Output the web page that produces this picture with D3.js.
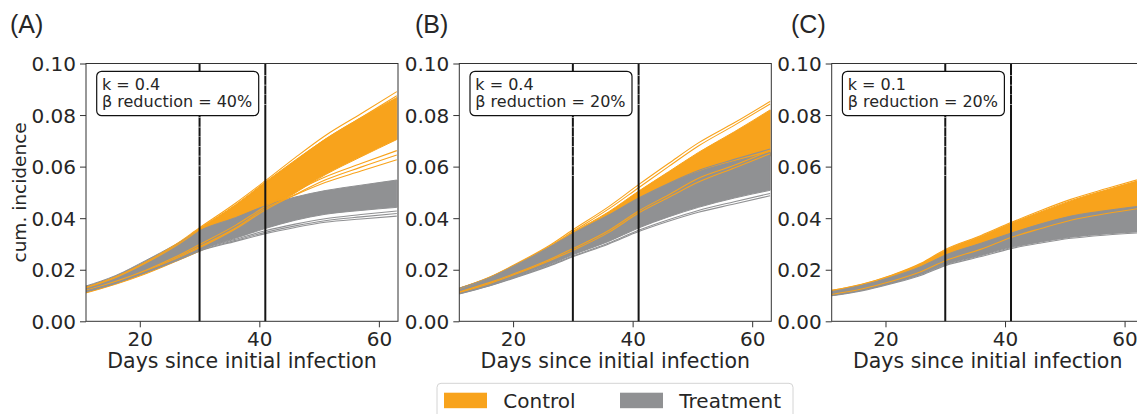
<!DOCTYPE html>
<html>
<head>
<meta charset="utf-8">
<script src="https://cdn.jsdelivr.net/npm/d3@7"></script>
<style>
  html, body { margin: 0; padding: 0; background: #ffffff; }
  svg { display: block; }
  text { font-family: "DejaVu Sans", sans-serif; fill: #262626; }
</style>
</head>
<body>
<svg id="chart" width="1137" height="414"></svg>
<script>
// Simulation days at which each trajectory is sampled
const days = [11, 16, 21, 26, 30, 36, 41, 46, 51, 57, 63];
const yTicks = [0.00, 0.02, 0.04, 0.06, 0.08, 0.10];
const xTicks = [20, 40, 60];
const markerDays = [30, 41];
const panelLabels = ["(A)", "(B)", "(C)"];
const panelNotes = [
  ["k = 0.4", "β reduction = 40%"],
  ["k = 0.4", "β reduction = 20%"],
  ["k = 0.1", "β reduction = 20%"]
];
const seriesNames = ["Control", "Treatment"];

// Panel A: envelope of the dense ensemble plus individual runs
const aControlHi = [0.0133, 0.0174, 0.0230, 0.0296, 0.0360, 0.0452, 0.0540, 0.0625, 0.0706, 0.0790, 0.0868];
const aControlLo = [0.0110, 0.0144, 0.0184, 0.0232, 0.0272, 0.0345, 0.0428, 0.0498, 0.0568, 0.0638, 0.0705];
const aControlRuns = [
  [0.0132, 0.0173, 0.0230, 0.0298, 0.0363, 0.0458, 0.0545, 0.0635, 0.0720, 0.0805, 0.0891],
  [0.0130, 0.0170, 0.0226, 0.0292, 0.0355, 0.0448, 0.0535, 0.0620, 0.0705, 0.0790, 0.0875],
  [0.0118, 0.0152, 0.0195, 0.0245, 0.0290, 0.0362, 0.0438, 0.0490, 0.0538, 0.0583, 0.0627],
  [0.0116, 0.0150, 0.0192, 0.0240, 0.0285, 0.0358, 0.0432, 0.0492, 0.0548, 0.0598, 0.0645],
  [0.0120, 0.0155, 0.0198, 0.0250, 0.0298, 0.0372, 0.0445, 0.0505, 0.0560, 0.0612, 0.0662]
];
const aTreatHi = [0.0137, 0.0178, 0.0236, 0.0298, 0.0352, 0.0402, 0.0448, 0.0482, 0.0507, 0.0528, 0.0548];
const aTreatLo = [0.0117, 0.0150, 0.0192, 0.0238, 0.0278, 0.0322, 0.0360, 0.0392, 0.0415, 0.0430, 0.0442];
const aTreatRuns = [
  [0.0115, 0.0148, 0.0189, 0.0234, 0.0272, 0.0310, 0.0340, 0.0364, 0.0384, 0.0397, 0.0408],
  [0.0116, 0.0149, 0.0191, 0.0236, 0.0275, 0.0314, 0.0345, 0.0370, 0.0390, 0.0405, 0.0418],
  [0.0117, 0.0150, 0.0192, 0.0238, 0.0278, 0.0318, 0.0351, 0.0377, 0.0398, 0.0414, 0.0428]
];

// Panel B
const bControlHi = [0.0129, 0.0170, 0.0226, 0.0288, 0.0345, 0.0425, 0.0505, 0.0580, 0.0655, 0.0735, 0.0820];
const bControlLo = [0.0110, 0.0143, 0.0184, 0.0228, 0.0268, 0.0340, 0.0410, 0.0470, 0.0530, 0.0585, 0.0640];
const bControlRuns = [
  [0.0128, 0.0171, 0.0229, 0.0293, 0.0355, 0.0445, 0.0530, 0.0612, 0.0692, 0.0770, 0.0853],
  [0.0127, 0.0169, 0.0226, 0.0289, 0.0348, 0.0436, 0.0518, 0.0600, 0.0680, 0.0760, 0.0843],
  [0.0112, 0.0146, 0.0188, 0.0234, 0.0275, 0.0345, 0.0420, 0.0480, 0.0540, 0.0595, 0.0650],
  [0.0114, 0.0150, 0.0192, 0.0239, 0.0282, 0.0352, 0.0428, 0.0490, 0.0555, 0.0605, 0.0662]
];
const bTreatHi = [0.0128, 0.0168, 0.0224, 0.0284, 0.0338, 0.0410, 0.0475, 0.0532, 0.0580, 0.0620, 0.0655];
const bTreatLo = [0.0108, 0.0140, 0.0178, 0.0220, 0.0258, 0.0310, 0.0362, 0.0405, 0.0442, 0.0478, 0.0508];
const bTreatRuns = [
  [0.0106, 0.0137, 0.0174, 0.0214, 0.0250, 0.0300, 0.0348, 0.0388, 0.0423, 0.0455, 0.0487],
  [0.0107, 0.0138, 0.0176, 0.0217, 0.0253, 0.0304, 0.0353, 0.0394, 0.0430, 0.0464, 0.0496],
  [0.0128, 0.0168, 0.0224, 0.0286, 0.0340, 0.0412, 0.0478, 0.0535, 0.0585, 0.0628, 0.0668]
];

// Panel C
const cControlHi = [0.0120, 0.0143, 0.0178, 0.0224, 0.0276, 0.0330, 0.0380, 0.0425, 0.0468, 0.0510, 0.0550];
const cControlLo = [0.0100, 0.0120, 0.0149, 0.0185, 0.0223, 0.0266, 0.0312, 0.0350, 0.0386, 0.0418, 0.0445];
const cControlRuns = [
  [0.0120, 0.0144, 0.0179, 0.0226, 0.0279, 0.0333, 0.0383, 0.0430, 0.0473, 0.0515, 0.0555],
  [0.0104, 0.0125, 0.0155, 0.0193, 0.0235, 0.0280, 0.0325, 0.0360, 0.0392, 0.0418, 0.0440]
];
const cTreatHi = [0.0118, 0.0140, 0.0172, 0.0213, 0.0257, 0.0303, 0.0342, 0.0378, 0.0408, 0.0430, 0.0448];
const cTreatLo = [0.0100, 0.0120, 0.0148, 0.0182, 0.0219, 0.0255, 0.0286, 0.0308, 0.0326, 0.0339, 0.0348];
const cTreatRuns = [
  [0.0099, 0.0118, 0.0146, 0.0179, 0.0216, 0.0251, 0.0282, 0.0304, 0.0322, 0.0335, 0.0344]
];

const colors = { control: "#f8a31c", treat: "#909193" };

const panels = [
  { left: 86,    label: panelLabels[0], labelX: 10,  note: panelNotes[0],
    cHi: aControlHi, cLo: aControlLo, cRuns: aControlRuns, tHi: aTreatHi, tLo: aTreatLo, tRuns: aTreatRuns, ylabel: true },
  { left: 459.3, label: panelLabels[1], labelX: 415, note: panelNotes[1],
    cHi: bControlHi, cLo: bControlLo, cRuns: bControlRuns, tHi: bTreatHi, tLo: bTreatLo, tRuns: bTreatRuns, ylabel: false },
  { left: 831.7, label: panelLabels[2], labelX: 791, note: panelNotes[2],
    cHi: cControlHi, cLo: cControlLo, cRuns: cControlRuns, tHi: cTreatHi, tLo: cTreatLo, tRuns: cTreatRuns, ylabel: false }
];

const svg = d3.select("#chart");
const plotW = 312, plotTop = 63.5, plotBottom = 321.3;
// short broken stretches on the marker lines (below the note box / beside it)
const markerBreaks = [[117, 177], [75, 112]];

panels.forEach((p, i) => {
  const x = d3.scaleLinear().domain([11, 63.2]).range([p.left, p.left + plotW]);
  const y = d3.scaleLinear().domain([0, 0.10]).range([plotBottom, plotTop]);

  const clipId = "clip" + i;
  svg.append("clipPath").attr("id", clipId)
    .append("rect").attr("x", p.left).attr("y", plotTop).attr("width", plotW).attr("height", plotBottom - plotTop);

  const g = svg.append("g");
  const data = g.append("g").attr("clip-path", `url(#${clipId})`);

  const band = (hi, lo) => d3.area()
    .curve(d3.curveMonotoneX)
    .x((d, k) => x(days[k]))
    .y0((d, k) => y(lo[k]))
    .y1((d, k) => y(hi[k]))(hi);
  const line = d3.line().curve(d3.curveMonotoneX).x((d, k) => x(days[k])).y(d => y(d));

  data.append("path").attr("d", band(p.cHi, p.cLo)).attr("fill", colors.control)
    .attr("stroke", colors.control).attr("stroke-width", 1);
  data.append("path").attr("d", band(p.tHi, p.tLo)).attr("fill", colors.treat)
    .attr("stroke", colors.treat).attr("stroke-width", 1);
  p.cRuns.forEach(r => data.append("path").attr("d", line(r)).attr("fill", "none")
    .attr("stroke", colors.control).attr("stroke-width", 1.1));
  p.tRuns.forEach(r => data.append("path").attr("d", line(r)).attr("fill", "none")
    .attr("stroke", colors.treat).attr("stroke-width", 1.1));

  // intervention markers
  markerDays.forEach((d, k) => {
    g.append("line").attr("x1", x(d)).attr("x2", x(d)).attr("y1", plotTop).attr("y2", plotBottom)
      .attr("stroke", "#151515").attr("stroke-width", 2);
    const br = markerBreaks[k];
    g.append("line").attr("x1", x(d)).attr("x2", x(d)).attr("y1", br[0]).attr("y2", br[1])
      .attr("stroke", "#ffffff").attr("stroke-width", 2.4).attr("stroke-opacity", 0.75)
      .attr("stroke-dasharray", "0.7 9");
  });

  // axes
  const yAxis = d3.axisLeft(y).tickValues(yTicks).tickFormat(d3.format(".2f")).tickSize(6).tickPadding(4);
  const xAxis = d3.axisBottom(x).tickValues(xTicks).tickFormat(d3.format("d")).tickSize(6).tickPadding(4);
  const ya = g.append("g").attr("transform", `translate(${p.left},0)`).call(yAxis);
  const xa = g.append("g").attr("transform", `translate(0,${plotBottom})`).call(xAxis);
  [ya, xa].forEach(a => {
    a.select(".domain").remove();
    a.selectAll(".tick line").attr("stroke", "#333").attr("stroke-width", 1);
    a.selectAll(".tick text").attr("font-size", 20).attr("fill", "#262626")
      .style("font-family", "'DejaVu Sans', sans-serif");
  });
  ya.selectAll(".tick text").attr("dy", "0.36em");
  xa.selectAll(".tick text").attr("dy", "0.74em");

  // frame
  g.append("rect").attr("x", p.left).attr("y", plotTop).attr("width", plotW).attr("height", plotBottom - plotTop)
    .attr("fill", "none").attr("stroke", "#333").attr("stroke-width", 1);

  // x label
  g.append("text").attr("x", p.left + plotW / 2).attr("y", 368)
    .attr("text-anchor", "middle").attr("font-size", 20.5).text("Days since initial infection");

  if (p.ylabel) {
    g.append("text").attr("transform", `translate(26,${(plotTop + plotBottom) / 2}) rotate(-90)`)
      .attr("text-anchor", "middle").attr("font-size", 18.5).text("cum. incidence");
  }

  // panel letter
  svg.append("text").attr("x", p.labelX).attr("y", 33)
    .style("font-family", "'Liberation Sans', Arial, sans-serif").attr("font-size", 25)
    .attr("fill", "#111").text(p.label);

  // parameter box
  g.append("rect").attr("x", p.left + 10.7).attr("y", 71.3).attr("width", 162).attr("height", 44.4)
    .attr("rx", 5).attr("fill", "#fff").attr("stroke", "#111").attr("stroke-width", 1.2);
  p.note.forEach((t, k) => {
    g.append("text").attr("x", p.left + 16).attr("y", 89.5 + k * 17.8)
      .attr("font-size", 16).attr("fill", "#222").text(t);
  });
});

// legend
const lg = svg.append("g");
lg.append("rect").attr("x", 437).attr("y", 383.3).attr("width", 356).attr("height", 45)
  .attr("rx", 4).attr("fill", "#fff").attr("stroke", "#d4d4d4").attr("stroke-width", 1);
const legendItems = [
  { name: seriesNames[0], color: colors.control, sx: 444, tx: 503.3 },
  { name: seriesNames[1], color: colors.treat, sx: 620, tx: 679.3 }
];
legendItems.forEach(it => {
  lg.append("rect").attr("x", it.sx).attr("y", 392.7).attr("width", 43).attr("height", 15.5).attr("fill", it.color);
  lg.append("text").attr("x", it.tx).attr("y", 407.5).attr("font-size", 20).text(it.name);
});
</script>
</body>
</html>
